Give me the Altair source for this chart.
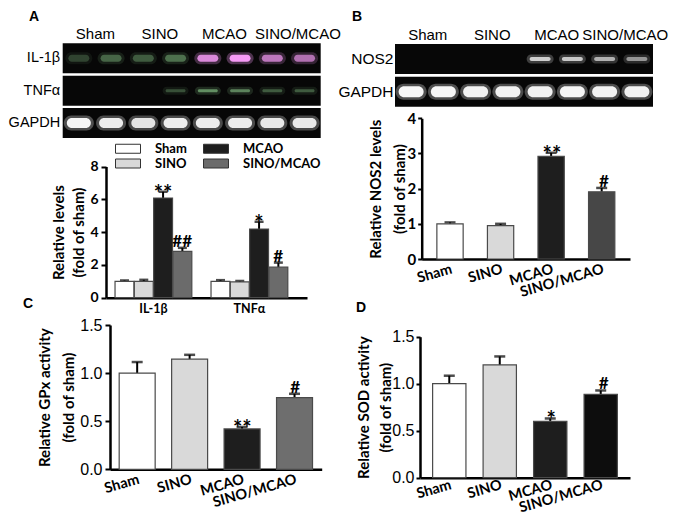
import json
import altair as alt
import pandas as pd

# ---------------- data ----------------
groups = ["Sham", "SINO", "MCAO", "SINO/MCAO"]

# Panel A gel (band intensity per lane, 2 lanes per group)
gel_a_rows = ["IL-1β", "TNFα", "GAPDH"]
gel_a_il1b = [0.25, 0.40, 0.35, 0.45, 0.85, 1.00, 0.70, 0.65]
gel_a_tnfa = [0.00, 0.00, 0.00, 0.30, 0.60, 0.55, 0.35, 0.35]
gel_a_gapdh = [0.95, 0.90, 0.85, 0.90, 0.90, 0.90, 0.88, 0.88]
gel_a_il1b_dye = ["green", "green", "green", "green", "magenta", "magenta", "magenta", "magenta"]
gel_a_tnfa_dye = ["green", "green", "green", "green", "green", "green", "green", "green"]
gel_a_gapdh_dye = ["white", "white", "white", "white", "white", "white", "white", "white"]

# Panel B gel
gel_b_rows = ["NOS2", "GAPDH"]
gel_b_nos2 = [0.00, 0.00, 0.00, 0.00, 0.75, 0.72, 0.62, 0.50]
gel_b_gapdh = [0.95, 0.95, 0.92, 0.92, 0.92, 0.95, 0.92, 0.92]
gel_b_nos2_dye = ["white", "white", "white", "white", "white", "white", "white", "white"]
gel_b_gapdh_dye = ["white", "white", "white", "white", "white", "white", "white", "white"]

# Panel A bars
cytokines = ["IL-1β", "TNFα"]
il1b_mean = [1.00, 1.00, 6.08, 2.82]
il1b_err = [0.05, 0.09, 0.38, 0.22]
il1b_sig = ["", "", "**", "##"]
tnfa_mean = [1.00, 0.96, 4.19, 1.86]
tnfa_err = [0.07, 0.06, 0.44, 0.28]
tnfa_sig = ["", "", "*", "#"]

# Panel B bars
nos2_mean = [1.00, 0.95, 2.92, 1.91]
nos2_err = [0.04, 0.05, 0.10, 0.11]
nos2_sig = ["", "", "**", "#"]

# Panel C bars
gpx_mean = [1.00, 1.145, 0.42, 0.745]
gpx_err = [0.115, 0.045, 0.02, 0.04]
gpx_sig = ["", "", "**", "#"]

# Panel D bars
sod_mean = [1.00, 1.20, 0.60, 0.888]
sod_err = [0.085, 0.09, 0.03, 0.04]
sod_sig = ["", "", "*", "#"]

# ---------------- layout helpers ----------------
BOLD = "Lato"
REG = "Liberation Sans"
W, H = 661, 506


def cx(v):
    return v - 8


def cy(v):
    return v - 8


def y_axis(x_px, values, fmt, title, lab_font, lab_weight, lab_size, tick_len, lab_pad, title_lh, title_pad):
    return alt.Axis(orient="left", offset=-cx(x_px), values=values, format=fmt, title=title,
                    labelFont=lab_font, labelFontWeight=lab_weight, labelFontSize=lab_size,
                    labelColor="black", labelPadding=lab_pad, tickSize=tick_len, tickWidth=2,
                    tickColor="black", domainColor="black", domainWidth=2.5, grid=False,
                    titleFont=BOLD, titleFontWeight="bold", titleFontSize=15, titleColor="black",
                    titleLineHeight=title_lh, titlePadding=title_pad)


def sig_layers(base, enc):
    stars = base.transform_filter("indexof(datum.sig, '*') >= 0").mark_text(
        font=BOLD, fontWeight="bold", fontSize=22, baseline="alphabetic", dy=9, color="black"
    ).encode(text="sig:N", **enc)
    hashes = base.transform_filter("indexof(datum.sig, '#') >= 0").mark_text(
        font=BOLD, fontWeight="bold", fontSize=17, baseline="alphabetic", dy=-1, color="black"
    ).encode(text="sig:N", **enc)
    return [stars, hashes]


def gel_layers(rows, intens, dyes, thick, length, x_px, y_px, pad_in, top_pad, row_pad, row_size, last_shift):
    recs = []
    for r, vals, ds in zip(rows, intens, dyes):
        for i, (v, d) in enumerate(zip(vals, ds)):
            recs.append({"row": r, "lane": i + 1, "intensity": v, "dye": d})
    df = pd.DataFrame(recs)
    xs = alt.Scale(domain=[0, 8], range=[cx(x_px[0]), cx(x_px[1])], nice=False, zero=False)
    ys = alt.Scale(domain=rows, range=[cy(y_px[0]), cy(y_px[1])], paddingInner=pad_in, paddingOuter=0)
    top_axis = alt.Axis(orient="top", offset=-cy(y_px[0]), values=[1, 3, 5, 7],
                        labelExpr=json.dumps(groups) + "[(datum.value - 1) / 2]",
                        labelOverlap=False, labelFlush=False,
                        labelOffset={"condition": {"test": "datum.value == 7", "value": last_shift}, "value": 0},
                        domain=False, ticks=False, grid=False, title=None, labelFont=REG,
                        labelFontSize=15, labelColor="black", labelPadding=top_pad, labelAngle=0)
    row_axis = alt.Axis(orient="left", offset=-cx(x_px[0]), domain=False, ticks=False, grid=False,
                        title=None, labelFont=REG, labelFontSize=row_size, labelColor="black",
                        labelPadding=row_pad, labelOverlap=False)
    bg = alt.Chart(pd.DataFrame({"row": rows})).mark_rect(color="#070707").encode(
        x=alt.XDatum(0, type="quantitative", scale=xs, axis=None),
        x2=alt.X2Datum(8),
        y=alt.Y("row:N", scale=ys, axis=row_axis),
    )
    base = alt.Chart(df).transform_calculate(xc="datum.lane - 0.5", glow="datum.intensity * 0.3")
    dye_color = alt.Color("dye:N", scale=alt.Scale(domain=["green", "magenta", "white"],
                                                    range=["#8fd08f", "#f59af5", "#ffffff"]), legend=None)
    layers = [bg]
    first = True
    for r, th, ln in zip(rows, thick, length):
        sub = base.transform_filter(alt.FieldEqualPredicate(field="row", equal=r))
        yenc = alt.Y("row:N", scale=ys, axis=None)
        glow = sub.mark_tick(orient="horizontal", size=ln + 6, thickness=th + 5,
                             cornerRadius=(th + 5) / 2).encode(
            x=alt.X("xc:Q", scale=xs, axis=top_axis if first else None), y=yenc, color=dye_color,
            opacity=alt.Opacity("glow:Q", scale=None))
        first = False
        core = sub.mark_tick(orient="horizontal", size=ln, thickness=th,
                             cornerRadius=th / 2).encode(
            x=alt.X("xc:Q", scale=xs, axis=None), y=yenc, color=dye_color,
            opacity=alt.Opacity("intensity:Q", scale=None))
        layers += [glow, core]
    return layers


def bar_layers(means, errs, sigs, fills, x_px, pad_in, pad_out, y_max, y_px, y_vals, y_fmt, title,
               lab_font, lab_weight, lab_size, tick_len, lab_pad, title_lh, title_pad, x_lab_pad):
    df = pd.DataFrame({"group": groups, "mean": means, "err": errs, "sig": sigs})
    xs = alt.Scale(domain=groups, range=[cx(x_px[0]), cx(x_px[1])], paddingInner=pad_in, paddingOuter=pad_out)
    ys = alt.Scale(domain=[0, y_max], range=[cy(y_px[0]), cy(y_px[1])], nice=False, zero=True)
    x_axis = alt.Axis(orient="bottom", offset=cy(y_px[0]) - H, title=None, labelAngle=-16,
                      labelAlign="right", labelBaseline="top", labelPadding=x_lab_pad, ticks=False,
                      labelFont=BOLD, labelFontWeight="bold", labelFontSize=14.5, labelColor="black",
                      labelOverlap=False, domainColor="black", domainWidth=2.5, grid=False)
    yax = y_axis(x_px[0], y_vals, y_fmt, title, lab_font, lab_weight, lab_size, tick_len, lab_pad,
                 title_lh, title_pad)
    base = alt.Chart(df).transform_calculate(top="datum.mean + datum.err")
    xn = alt.X("group:N", scale=xs, axis=None)
    bars = base.mark_bar(stroke="#4a4a4a", strokeWidth=1.2).encode(
        x=alt.X("group:N", scale=xs, axis=x_axis),
        y=alt.Y("mean:Q", scale=ys, axis=yax),
        color=alt.Color("group:N", scale=alt.Scale(domain=groups, range=fills), legend=None),
    )
    stems = base.mark_rule(color="black", strokeWidth=2).encode(
        x=xn, y=alt.Y("mean:Q", scale=ys, axis=None), y2="top:Q")
    caps = base.mark_tick(orient="horizontal", size=11, thickness=2.5, color="black").encode(
        x=xn, y=alt.Y("top:Q", scale=ys, axis=None))
    sig = sig_layers(base, {"x": xn, "y": alt.Y("top:Q", scale=ys, axis=None)})
    return [stems, caps, bars] + sig


# ---------------- panel A bars ----------------
rows_a = []
for gene, m, e, s in [(cytokines[0], il1b_mean, il1b_err, il1b_sig), (cytokines[1], tnfa_mean, tnfa_err, tnfa_sig)]:
    for g, mv, ev, sv in zip(groups, m, e, s):
        rows_a.append({"gene": gene, "group": g, "mean": mv, "err": ev, "sig": sv})
df_a = pd.DataFrame(rows_a)

fill_a = ["#ffffff", "#d9d9d9", "#1e1e1e", "#6b6b6b"]
xs_a = alt.Scale(domain=cytokines, range=[cx(106), cx(307)], paddingInner=0.2, paddingOuter=0.147, align=0.32)
ys_a = alt.Scale(domain=[0, 8], range=[cy(297.7), cy(166.5)], nice=False, zero=True)
xo_a = alt.XOffset("group:N", sort=groups, scale=alt.Scale(domain=groups, paddingInner=0.02))
xax_a = alt.Axis(orient="bottom", offset=cy(297.7) - H, title=None, labelAngle=0, ticks=False,
                 labelFont=BOLD, labelFontWeight="bold", labelFontSize=12.5, labelColor="black",
                 labelPadding=5, domainColor="black", domainWidth=2.5, grid=False)
yax_a = y_axis(106, [0, 2, 4, 6, 8], "d", ["Relative levels", "(fold of sham)"], BOLD, "bold", 14, 5, 3, 20, 3)
base_a = alt.Chart(df_a).transform_calculate(top="datum.mean + datum.err")
xn_a = alt.X("gene:N", scale=xs_a, axis=None)
bars_a = base_a.mark_bar(stroke="#4a4a4a", strokeWidth=1.2).encode(
    x=alt.X("gene:N", scale=xs_a, axis=xax_a),
    xOffset=xo_a,
    y=alt.Y("mean:Q", scale=ys_a, axis=yax_a),
    color=alt.Color("group:N", scale=alt.Scale(domain=groups, range=fill_a),
                    legend=alt.Legend(orient="none", legendX=cx(115), legendY=cy(142), columns=2,
                                      title=None, symbolType="M-1,-0.36H1V0.36H-1Z", symbolSize=625,
                                      symbolStrokeColor="#333333", symbolStrokeWidth=1,
                                      labelFont=BOLD, labelFontWeight="bold", labelFontSize=13,
                                      labelColor="black", labelOffset=14, columnPadding=16,
                                      rowPadding=1, clipHeight=13, padding=0)),
)
stems_a = base_a.mark_rule(color="black", strokeWidth=2).encode(
    x=xn_a, xOffset=xo_a, y=alt.Y("mean:Q", scale=ys_a, axis=None), y2="top:Q")
caps_a = base_a.mark_tick(orient="horizontal", size=9, thickness=2.5, color="black").encode(
    x=xn_a, xOffset=xo_a, y=alt.Y("top:Q", scale=ys_a, axis=None))
sig_a = sig_layers(base_a, {"x": xn_a, "xOffset": xo_a, "y": alt.Y("top:Q", scale=ys_a, axis=None)})
panel_a = [stems_a, caps_a, bars_a] + sig_a

# ---------------- gels ----------------
gel_a = gel_layers(gel_a_rows, [gel_a_il1b, gel_a_tnfa, gel_a_gapdh],
                   [gel_a_il1b_dye, gel_a_tnfa_dye, gel_a_gapdh_dye],
                   [7, 3, 10], [21, 20, 24], (62.7, 320.7), (43.3, 138), 0.073, 2, 3, 14.5, 9)
gel_b = gel_layers(gel_b_rows, [gel_b_nos2, gel_b_gapdh], [gel_b_nos2_dye, gel_b_gapdh_dye],
                   [4, 11], [21, 25], (395, 653), (44, 106.7), 0.083, 2, 2, 15.5, 4)

# ---------------- B, C, D bars ----------------
panel_b = bar_layers(nos2_mean, nos2_err, nos2_sig, ["#ffffff", "#d9d9d9", "#1e1e1e", "#474747"],
                     (421.7, 630), 0.48, 0.3, 4, (259, 118.3), [0, 1, 2, 3, 4], "d",
                     ["Relative NOS2 levels", "(fold of sham)"], BOLD, "bold", 15, 4, 2, 24, 0, 3)
panel_c = bar_layers(gpx_mean, gpx_err, gpx_sig, ["#ffffff", "#d9d9d9", "#1e1e1e", "#6e6e6e"],
                     (110, 321.7), 0.314, 0.175, 1.5, (469.3, 325), [0, 0.5, 1.0, 1.5], ".1f",
                     ["Relative GPx activity", "(fold of sham)"], REG, "normal", 16, 5, 3, 24, 3, 3)
panel_d = bar_layers(sod_mean, sod_err, sod_sig, ["#ffffff", "#d9d9d9", "#1e1e1e", "#0d0d0d"],
                     (420, 630), 0.34, 0.25, 1.5, (477.7, 336.7), [0, 0.5, 1.0, 1.5], ".1f",
                     ["Relative SOD activity", "(fold of sham)"], REG, "normal", 16, 4, 2, 22, -2, 0)


# ---------------- panel letters ----------------
def letter(t, x, y):
    return alt.Chart(alt.Data(values=[{}])).mark_text(
        text=t, font=REG, fontWeight="bold", fontSize=14, align="center", baseline="top", color="black"
    ).encode(x=alt.value(cx(x)), y=alt.value(cy(y)))


all_layers = gel_a + panel_a + gel_b + panel_b + panel_c + panel_d + [
    letter("A", 34, 9.5), letter("B", 357, 9.5), letter("C", 28, 297), letter("D", 361, 301)]

chart = alt.layer(*all_layers).resolve_scale(
    x="independent", y="independent", color="independent", xOffset="independent"
).properties(
    width=W, height=H, padding=0, autosize=alt.AutoSizeParams(type="none"), background="white"
).configure_view(stroke=None)

chart.save("out.html", embed_options={"renderer": "svg", "actions": False})
